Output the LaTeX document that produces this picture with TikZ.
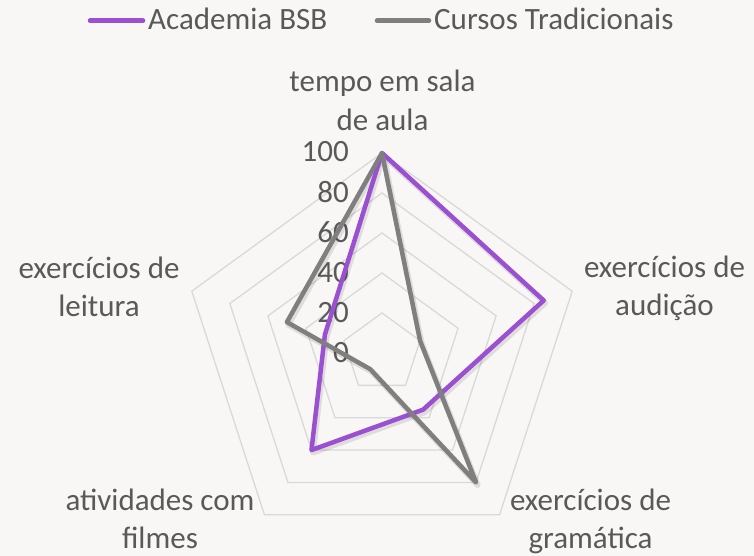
\documentclass[tikz,border=0pt]{standalone}
\usepackage{fontspec}
\setmainfont{Carlito}
\definecolor{bg}{HTML}{F8F7F5}
\definecolor{gridc}{HTML}{D9D9D9}
\definecolor{txt}{HTML}{595959}
\definecolor{bsb}{HTML}{9B4FD1}
\definecolor{trad}{HTML}{7F7F7F}
\begin{document}
\begin{tikzpicture}[x=1pt,y=-1pt,
  lab/.style={text=txt,font=\fontsize{31}{38.5}\selectfont,inner sep=0pt,anchor=base},
  tick/.style={text=txt,font=\fontsize{31}{38.5}\selectfont,inner sep=0pt,anchor=base east},
  gridline/.style={draw=gridc,line width=1.3pt},
  series/.style={line width=4.5pt,line join=round,line cap=round},
  shadowline/.style={line width=6pt,draw=black,opacity=0.10,line join=round}
]
\fill[bg] (0,0) rectangle (754,556);
\useasboundingbox (0,0) rectangle (754,556);
% grid pentagons
\foreach \r in {40,80,120,160,200}{
  \draw[gridline] ({382+\r*cos(90)},{353-\r*sin(90)})
    -- ({382+\r*cos(18)},{353-\r*sin(18)})
    -- ({382+\r*cos(-54)},{353-\r*sin(-54)})
    -- ({382+\r*cos(-126)},{353-\r*sin(-126)})
    -- ({382+\r*cos(162)},{353-\r*sin(162)}) -- cycle;
}
% tick labels
\foreach \v in {0,20,40,60,80,100}{
  \node[tick] (t\v) at (349,{362-2*\v}) {\v};
}
% data points
\foreach \v/\a [count=\i] in {100/90,85/18,35/-54,60/-126,30/162}{
  \coordinate (b\i) at ({382+2*\v*cos(\a)},{353-2*\v*sin(\a)});
}
\foreach \v/\a [count=\i] in {100/90,20/18,80/-54,10/-126,50/162}{
  \coordinate (c\i) at ({382+2*\v*cos(\a)},{353-2*\v*sin(\a)});
}
% shadows
\begin{scope}[transform canvas={xshift=1.5pt,yshift=-2.5pt}]
  \draw[shadowline] (b1) -- (b2) -- (b3) -- (b4) -- (b5) -- cycle;
  \draw[shadowline] (c1) -- (c2) -- (c3) -- (c4) -- (c5) -- cycle;
\end{scope}
% series
\draw[series,draw=bsb] (b1) -- (b2) -- (b3) -- (b4) -- (b5) -- cycle;
\draw[series,draw=trad] (c1) -- (c2) -- (c3) -- (c4) -- (c5) -- cycle;
% axis labels
\node[lab] (ax1a) at (382.5,91.7) {tempo em sala};
\node[lab] (ax1b) at (382.5,130.2) {de aula};
\node[lab] (ax2a) at (664.5,277.3) {exercícios de};
\node[lab] (ax2b) at (664.5,315.8) {audição};
\node[lab] (ax3a) at (590.5,510.5) {exercícios de};
\node[lab] (ax3b) at (590.5,548.5) {gramática};
\node[lab] (ax4a) at (160,510.5) {atividades com};
\node[lab] (ax4b) at (160,548.5) {filmes};
\node[lab] (ax5a) at (99,278.3) {exercícios de};
\node[lab] (ax5b) at (99,316.8) {leitura};
% legend
\coordinate (la1) at (90,20.7);
\coordinate (la2) at (143,20.7);
\coordinate (lb1) at (377,20.7);
\coordinate (lb2) at (429,20.7);
\draw[series,draw=bsb] (la1) -- (la2);
\draw[series,draw=trad] (lb1) -- (lb2);
\node[lab,anchor=base west] (lga) at (148,30) {Academia BSB};
\node[lab,anchor=base west] (lgb) at (434,30) {Cursos Tradicionais};
\end{tikzpicture}
\end{document}
